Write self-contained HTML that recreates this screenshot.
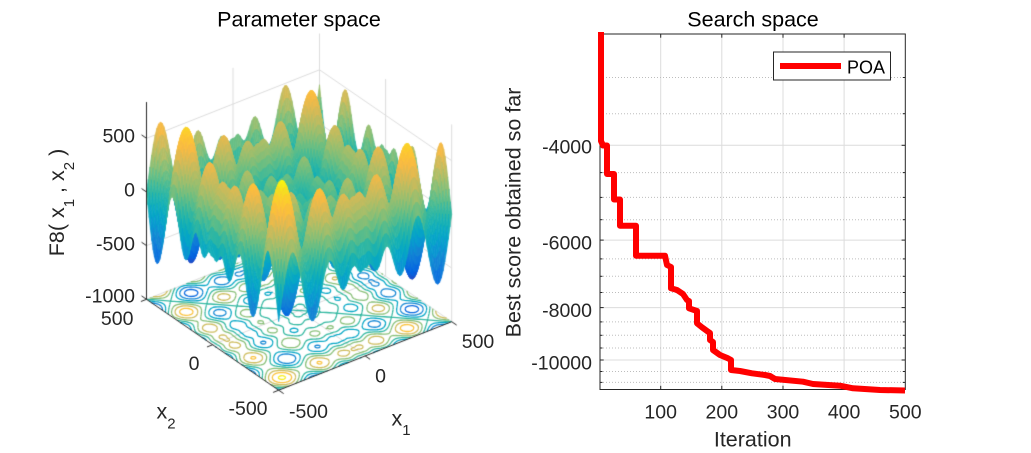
<!DOCTYPE html>
<html><head><meta charset="utf-8">
<style>
html,body{margin:0;padding:0;background:#fff;}
body{width:1031px;height:453px;position:relative;overflow:hidden;}
canvas{position:absolute;left:0;top:0;}
svg{position:absolute;left:0;top:0;}
text{font-family:"Liberation Sans",Arial,sans-serif;fill:#262626;white-space:pre;}
</style></head><body>
<canvas id="c" width="520" height="453"></canvas>
<svg width="1031" height="453" viewBox="0 0 1031 453">
<!-- Left panel text -->
<text x="299" y="26.5" font-size="21.5" text-anchor="middle" style="fill:#000">Parameter space</text>
<g font-size="19.5" text-anchor="end">
<text x="135" y="142.3">500</text>
<text x="135" y="196.7">0</text>
<text x="135" y="250.7">-500</text>
<text x="135" y="302.5">-1000</text>
</g>
<g font-size="19.5" text-anchor="middle">
<text x="117.2" y="325">500</text>
<text x="194" y="370">0</text>
<text x="248" y="415">-500</text>
<text x="308.5" y="418">-500</text>
<text x="380.5" y="382.5">0</text>
<text x="478" y="348">500</text>
</g>
<text x="156.5" y="418.3" font-size="21.5">x<tspan font-size="15" dy="10">2</tspan></text>
<text x="391.5" y="425.7" font-size="21.5">x<tspan font-size="15" dy="9.5">1</tspan></text>
<text transform="translate(64,202.5) rotate(-90)" text-anchor="middle" font-size="21.5">F8( x<tspan font-size="15" dy="10">1</tspan><tspan dy="-10"> , x</tspan><tspan font-size="15" dy="10">2</tspan><tspan dy="-10"> )</tspan></text>

<!-- Right panel -->
<g stroke="#dcdcdc" stroke-width="1">
<line x1="660.7" y1="34" x2="660.7" y2="389.5"/>
<line x1="721.8" y1="34" x2="721.8" y2="389.5"/>
<line x1="783" y1="34" x2="783" y2="389.5"/>
<line x1="844.1" y1="34" x2="844.1" y2="389.5"/>
<line x1="600" y1="145.3" x2="905.3" y2="145.3"/>
<line x1="600" y1="240.1" x2="905.3" y2="240.1"/>
<line x1="600" y1="307.6" x2="905.3" y2="307.6"/>
<line x1="600" y1="360" x2="905.3" y2="360"/>
</g>
<g stroke="#bdbdbd" stroke-width="1" stroke-dasharray="1,2">
<line x1="600" y1="77.5" x2="905.3" y2="77.5"/>
<line x1="600" y1="113.7" x2="905.3" y2="113.7"/>
<line x1="600" y1="172.6" x2="905.3" y2="172.6"/>
<line x1="600" y1="197.4" x2="905.3" y2="197.4"/>
<line x1="600" y1="219.7" x2="905.3" y2="219.7"/>
<line x1="600" y1="258.9" x2="905.3" y2="258.9"/>
<line x1="600" y1="276.3" x2="905.3" y2="276.3"/>
<line x1="600" y1="292.5" x2="905.3" y2="292.5"/>
<line x1="600" y1="321.9" x2="905.3" y2="321.9"/>
<line x1="600" y1="335.3" x2="905.3" y2="335.3"/>
<line x1="600" y1="348" x2="905.3" y2="348"/>
<line x1="600" y1="371.5" x2="905.3" y2="371.5"/>
<line x1="600" y1="382.4" x2="905.3" y2="382.4"/>
</g>
<rect x="600" y="34" width="305.3" height="355.5" fill="none" stroke="#262626" stroke-width="1"/>
<g stroke="#262626" stroke-width="1">
<line x1="660.7" y1="389.5" x2="660.7" y2="385.8"/><line x1="660.7" y1="34" x2="660.7" y2="37.7"/>
<line x1="721.8" y1="389.5" x2="721.8" y2="385.8"/><line x1="721.8" y1="34" x2="721.8" y2="37.7"/>
<line x1="783" y1="389.5" x2="783" y2="385.8"/><line x1="783" y1="34" x2="783" y2="37.7"/>
<line x1="844.1" y1="389.5" x2="844.1" y2="385.8"/><line x1="844.1" y1="34" x2="844.1" y2="37.7"/>
<line x1="600" y1="145.3" x2="603.7" y2="145.3"/><line x1="905.3" y1="145.3" x2="901.6" y2="145.3"/>
<line x1="600" y1="240.1" x2="603.7" y2="240.1"/><line x1="905.3" y1="240.1" x2="901.6" y2="240.1"/>
<line x1="600" y1="307.6" x2="603.7" y2="307.6"/><line x1="905.3" y1="307.6" x2="901.6" y2="307.6"/>
<line x1="600" y1="360" x2="603.7" y2="360"/><line x1="905.3" y1="360" x2="901.6" y2="360"/>
<line x1="600" y1="77.5" x2="602.5" y2="77.5"/><line x1="905.3" y1="77.5" x2="902.8" y2="77.5"/>
<line x1="600" y1="113.7" x2="602.5" y2="113.7"/><line x1="905.3" y1="113.7" x2="902.8" y2="113.7"/>
<line x1="600" y1="172.6" x2="602.5" y2="172.6"/><line x1="905.3" y1="172.6" x2="902.8" y2="172.6"/>
<line x1="600" y1="197.4" x2="602.5" y2="197.4"/><line x1="905.3" y1="197.4" x2="902.8" y2="197.4"/>
<line x1="600" y1="219.7" x2="602.5" y2="219.7"/><line x1="905.3" y1="219.7" x2="902.8" y2="219.7"/>
<line x1="600" y1="258.9" x2="602.5" y2="258.9"/><line x1="905.3" y1="258.9" x2="902.8" y2="258.9"/>
<line x1="600" y1="276.3" x2="602.5" y2="276.3"/><line x1="905.3" y1="276.3" x2="902.8" y2="276.3"/>
<line x1="600" y1="292.5" x2="602.5" y2="292.5"/><line x1="905.3" y1="292.5" x2="902.8" y2="292.5"/>
<line x1="600" y1="321.9" x2="602.5" y2="321.9"/><line x1="905.3" y1="321.9" x2="902.8" y2="321.9"/>
<line x1="600" y1="335.3" x2="602.5" y2="335.3"/><line x1="905.3" y1="335.3" x2="902.8" y2="335.3"/>
<line x1="600" y1="348" x2="602.5" y2="348"/><line x1="905.3" y1="348" x2="902.8" y2="348"/>
<line x1="600" y1="371.5" x2="602.5" y2="371.5"/><line x1="905.3" y1="371.5" x2="902.8" y2="371.5"/>
<line x1="600" y1="382.4" x2="602.5" y2="382.4"/><line x1="905.3" y1="382.4" x2="902.8" y2="382.4"/>
</g>
<polyline fill="none" stroke="#ff0000" stroke-width="6" stroke-linejoin="round" stroke-linecap="butt" points="601,32 601,141 603,145.5 607,145.5 607,174 614,174 614,199.5 620,199.5 620,225.7 636,225.7 636,255.7 665,255.7 667,265 671,267 671,288.3 677,290 683,294 687,300 689,301 689,308.3 694,310 697,311 697,323.3 702,327.3 708,331.7 710,333 710,340 713,342 713,350 720,355 728,358.3 731,360 731,370 740,371 752,373.3 765,375 770,376 775,379 803,381.7 813,384 840,385.7 853,388.3 880,390 905,390.5"/>
<rect x="773.5" y="52" width="117" height="28" fill="#fff" stroke="#262626" stroke-width="1"/>
<line x1="780" y1="66" x2="841" y2="66" stroke="#ff0000" stroke-width="6"/>
<text x="847" y="73.3" font-size="18" style="fill:#000">POA</text>

<text x="753" y="26.5" font-size="21.5" text-anchor="middle" style="fill:#000">Search space</text>
<g font-size="19.5" text-anchor="end">
<text x="592" y="153.3">-4000</text>
<text x="592" y="249.3">-6000</text>
<text x="592" y="317">-8000</text>
<text x="592" y="369.3">-10000</text>
</g>
<g font-size="19.5" text-anchor="middle">
<text x="660.7" y="418.3">100</text>
<text x="721.8" y="418.3">200</text>
<text x="783" y="418.3">300</text>
<text x="844.1" y="418.3">400</text>
<text x="905.3" y="418.3">500</text>
</g>
<text x="752.7" y="446.7" font-size="21.5" text-anchor="middle">Iteration</text>
<text transform="translate(520.5,212.5) rotate(-90)" font-size="21.5" text-anchor="middle">Best score obtained so far</text>
</svg>
<script>
(function(){
var cv=document.getElementById('c'),ctx=cv.getContext('2d');
var FX=278.7,FY=390.2,UX=173,UY=-68.5,VX=-132.2,VY=-90.9,ZS=0.10733;
function P(a,b,z){var u=(a+500)/1000,v=(b+500)/1000;return [FX+UX*u+VX*v,FY+UY*u+VY*v-(z+1000)*ZS];}
var pc=[[0.2081,0.1663,0.5292],[0.1959,0.2645,0.7279],[0.0117,0.3875,0.8820],[0.0498,0.4586,0.8641],[0.0793,0.5200,0.8312],[0.0343,0.5966,0.8199],[0.0228,0.6535,0.7768],[0.0843,0.6928,0.7062],[0.2178,0.7250,0.6193],[0.3953,0.7459,0.5244],[0.5709,0.7485,0.4494],[0.7184,0.7411,0.3905],[0.8507,0.7299,0.3360],[0.9739,0.7314,0.2666],[0.9955,0.7861,0.1967],[0.9626,0.8705,0.1309],[0.9763,0.9831,0.0538]];
var pp=[0,4,8,12,16,20,24,28,32,36,40,44,48,52,56,60,63];
function col(t){t=Math.max(0,Math.min(1,t))*63;var k=0;while(k<15&&t>pp[k+1])k++;var f=(t-pp[k])/(pp[k+1]-pp[k]);var a=pc[k],b=pc[k+1];
return 'rgb('+Math.round(255*(a[0]+(b[0]-a[0])*f))+','+Math.round(255*(a[1]+(b[1]-a[1])*f))+','+Math.round(255*(a[2]+(b[2]-a[2])*f))+')';}
var N=101,xs=[],g=[],i,j;
for(i=0;i<N;i++){var x=-500+10*i;xs.push(x);g.push(-x*Math.sin(Math.sqrt(Math.abs(x))));}
var F=[],fmin=1e9,fmax=-1e9;
for(i=0;i<N;i++){F.push([]);for(j=0;j<N;j++){var f=g[i]+g[j];F[i].push(f);if(f<fmin)fmin=f;if(f>fmax)fmax=f;}}
function ct(f){return (f-fmin)/(fmax-fmin);}
var zmax=fmax;
function line(pts,color,w){ctx.beginPath();ctx.moveTo(pts[0][0],pts[0][1]);for(var k=1;k<pts.length;k++)ctx.lineTo(pts[k][0],pts[k][1]);ctx.strokeStyle=color;ctx.lineWidth=w;ctx.stroke();}
var gc='#dcdcdc';
line([P(0,500,-1000),P(0,500,zmax)],gc,1);
line([P(500,500,-1000),P(500,500,zmax)],gc,1);
line([P(500,0,-1000),P(500,0,zmax)],gc,1);
line([P(500,-500,-1000),P(500,-500,zmax)],gc,1);
[-500,0,500].forEach(function(z){line([P(-500,500,z),P(500,500,z),P(500,-500,z)],gc,1);});
line([P(-500,500,-1000),P(500,500,-1000),P(500,-500,-1000)],gc,1);
line([P(0,-500,-1000),P(0,500,-1000)],gc,1);
line([P(-500,0,-1000),P(500,0,-1000)],gc,1);
var levels=[-800,-600,-400,-200,0,200,400,600,800];
levels.forEach(function(L){
 ctx.beginPath();
 for(var i=0;i<N-1;i++)for(var j=0;j<N-1;j++){
  var cs=[[i,j],[i+1,j],[i+1,j+1],[i,j+1]];var pts=[];
  for(var e=0;e<4;e++){var A=cs[e],B=cs[(e+1)%4];var va=F[A[0]][A[1]],vb=F[B[0]][B[1]];
   if((va>=L)!=(vb>=L)){var t=(L-va)/(vb-va);var a1=xs[A[0]]+(xs[B[0]]-xs[A[0]])*t,a2=xs[A[1]]+(xs[B[1]]-xs[A[1]])*t;pts.push(P(a1,a2,-1000));}}
  if(pts.length>=2){ctx.moveTo(pts[0][0],pts[0][1]);ctx.lineTo(pts[1][0],pts[1][1]);}
  if(pts.length==4){ctx.moveTo(pts[2][0],pts[2][1]);ctx.lineTo(pts[3][0],pts[3][1]);}
 }
 ctx.strokeStyle=col(ct(L));ctx.lineWidth=1.3;ctx.stroke();
});
var q=[];
for(i=0;i<N-1;i++)for(j=0;j<N-1;j++){q.push([132.2*i+173*j,i,j]);}
q.sort(function(a,b){return b[0]-a[0];});
ctx.lineWidth=0.7;ctx.lineJoin='round';
q.forEach(function(o){var i=o[1],j=o[2];
 var a=P(xs[i],xs[j],F[i][j]),b=P(xs[i+1],xs[j],F[i+1][j]),c=P(xs[i+1],xs[j+1],F[i+1][j+1]),d=P(xs[i],xs[j+1],F[i][j+1]);
 var cl=col(ct((F[i][j]+F[i+1][j]+F[i+1][j+1]+F[i][j+1])/4));
 ctx.beginPath();ctx.moveTo(a[0],a[1]);ctx.lineTo(b[0],b[1]);ctx.lineTo(c[0],c[1]);ctx.lineTo(d[0],d[1]);ctx.closePath();
 ctx.fillStyle=cl;ctx.strokeStyle=cl;ctx.fill();ctx.stroke();});
var ac='#262626';
line([P(-500,500,-1000),P(-500,500,zmax)],ac,1);
line([P(-500,500,-1000),P(-500,-500,-1000),P(500,-500,-1000)],ac,1);
[-1000,-500,0,500].forEach(function(z){var p=P(-500,500,z);line([p,[p[0]-0.824*6,p[1]-0.567*6]],ac,1);});
[-500,0,500].forEach(function(x){var p=P(x,-500,-1000);line([p,[p[0]+0.824*6,p[1]+0.567*6]],ac,1);});
[-500,0,500].forEach(function(x){var p=P(-500,x,-1000);line([p,[p[0]-0.930*6,p[1]+0.368*6]],ac,1);});
})();
</script>
</body></html>
